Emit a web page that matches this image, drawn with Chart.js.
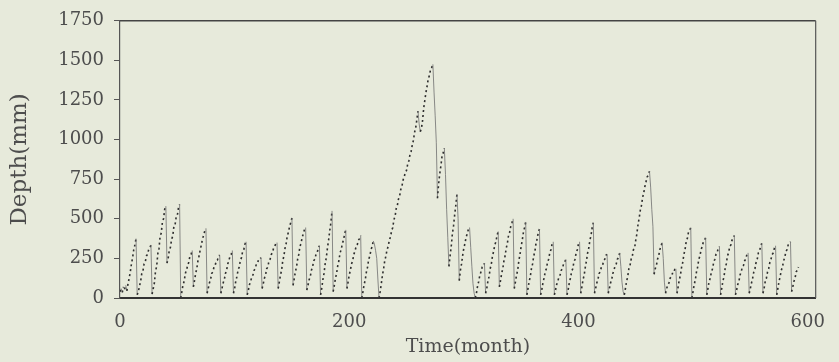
<!DOCTYPE html>
<html>
<head>
<meta charset="utf-8">
<script src="https://cdn.jsdelivr.net/npm/chart.js@4/dist/chart.umd.min.js"></script>
<style>
  html, body { margin: 0; padding: 0; background: #e7eadb; }
  canvas { display: block; }
</style>
</head>
<body>
<canvas id="c" width="839" height="362"></canvas>
<script>
// Monthly depth (mm), months 0-99
const depth000 = [40,60,35,70,55,80,45,90,125,165,215,255,305,335,375,20,
  40,75,105,155,170,215,225,265,275,305,315,335,25,
  60,95,170,200,280,310,390,410,480,500,560,580,220,
  250,300,320,370,390,450,460,510,520,570,590,0,
  40,85,105,155,175,205,225,265,275,300,70,
  110,155,185,235,265,305,335,375,395,425,440,30,
  60,95,115,155,165,195,205,235,240,265,270,30,
  60,95,115,155,175,215,235,265,275,300,30];
// months 100-199
const depth100 = [60,105,135,175,195,235,255,295,305,340,355,20,
  50,85,105,135,145,175,185,215,220,245,245,255,60,
  90,125,145,185,195,235,245,275,285,315,325,345,350,60,
  100,145,175,235,265,315,345,395,415,455,475,505,80,
  120,165,195,245,275,325,345,385,405,435,445,50,
  80,115,135,175,195,235,245,275,285,315,330,20,
  60,115,155,215,255,315,365,425,475,550,40,
  80,125,155,205,235,285,305,345,365,405,430,60,
  100];
// months 200-299
const depth200 = [145,175,215,235,275,295,325,335,365,375,395,0,
  40,85,115,165,195,245,265,305,325,360,340,300,250,120,0,
  40,90,145,185,235,265,305,325,365,385,425,445,495,515,565,585,625,645,685,705,
  745,765,795,805,845,865,905,925,965,995,1045,1075,1125,1180,1100,1050,1070,1120,1200,1250,
  1300,1340,1385,1405,1445,1455,1475,1300,1150,980,630,
  720,785,835,895,915,945,780,560,380,200,
  265,325,405,455,525,585,655,500,110,175,215,270];
// months 300-399
const depth300 = [315,345,385,405,435,445,320,200,90,30,0,
  30,75,105,145,165,195,200,220,30,
  60,105,135,185,215,265,295,335,355,395,420,70,
  110,155,185,235,265,315,345,395,415,455,475,500,60,
  100,145,175,235,275,325,365,415,445,480,20,
  60,105,135,185,215,265,295,345,375,415,435,20,
  50,95,125,165,185,225,245,285,305,340,355,20,
  50,85,105,135,145,175,185,215,225,245,20,
  50,95,125,165,185,225,245,285,305];
// months 400-499
const depth400 = [340,355,30,
  70,115,145,195,235,285,315,365,395,445,475,30,
  60,95,115,155,165,195,205,235,245,270,275,30,
  60,95,115,155,175,205,215,245,255,285,200,100,40,20,
  60,105,135,185,205,245,265,305,315,365,405,465,505,555,585,635,665,705,735,765,775,800,700,560,450,150,
  185,205,245,265,305,325,350,250,100,30,
  60,85,95,125,135,155,155,180,185,30,
  70,115,145,195,225,275,305,355,375,415,425,445,0];
// months 500-592
const depth500 = [40,85,115,165,195,245,265,305,325,355,365,380,20,
  60,105,125,165,185,225,245,275,285,315,325,20,
  60,105,135,185,215,265,285,325,335,365,375,395,20,
  50,85,105,145,165,195,205,235,245,275,285,30,
  60,95,125,165,185,225,245,285,295,330,345,30,
  60,105,125,165,185,225,245,275,285,315,330,20,
  60,105,135,175,195,235,255,295,305,335,340,355,40,
  70,105,125,165,175,195];

const xTicks = [0, 200, 400, 600];
const yTicks = [0, 250, 500, 750, 1000, 1250, 1500, 1750];
const xTitle = 'Time(month)';
const yTitle = 'Depth(mm)';

const depth = [].concat(depth000, depth100, depth200, depth300, depth400, depth500);
const points = depth.map((v, i) => ({ x: i, y: v }));

const textCol = '#4d4d4d';

const bgPlugin = {
  id: 'bg',
  beforeDraw(chart) {
    const ctx = chart.ctx;
    ctx.save();
    ctx.fillStyle = '#e7eadb';
    ctx.fillRect(0, 0, chart.width, chart.height);
    ctx.restore();
  }
};
const framePlugin = {
  id: 'frame',
  afterDraw(chart) {
    const { left, right, top, bottom } = chart.chartArea;
    const ctx = chart.ctx;
    ctx.save();
    ctx.strokeStyle = '#444';
    ctx.lineWidth = 1.5;
    ctx.beginPath();
    ctx.moveTo(left, top); ctx.lineTo(right, top);
    ctx.stroke();
    ctx.lineWidth = 1.2;
    ctx.strokeStyle = '#555';
    ctx.beginPath();
    ctx.moveTo(right, top); ctx.lineTo(right, bottom);
    ctx.stroke();
    ctx.restore();
  }
};

const rising = c => c.p1.parsed.y >= c.p0.parsed.y;

new Chart(document.getElementById('c'), {
  type: 'line',
  data: {
    datasets: [{
      data: points,
      borderColor: '#2e2e2e',
      borderWidth: 1.6,
      pointRadius: 0,
      tension: 0,
      fill: false,
      segment: {
        borderDash: c => rising(c) ? [2, 3] : [],
        borderColor: c => rising(c) ? '#2e2e2e' : '#6f6f6f',
        borderWidth: c => rising(c) ? 1.6 : 0.8
      }
    }]
  },
  options: {
    responsive: false,
    devicePixelRatio: 1,
    animation: false,
    events: [],
    layout: { padding: { left: 0, right: 14, top: 18, bottom: 0 } },
    plugins: { legend: { display: false }, tooltip: { enabled: false } },
    scales: {
      x: {
        type: 'linear',
        min: 0,
        max: 607,
        afterFit(scale) { scale.height = 64; },
        afterBuildTicks(scale) { scale.ticks = xTicks.map(v => ({ value: v })); },
        grid: { display: true, drawOnChartArea: false, drawTicks: false },
        border: { display: true, color: '#333', width: 2 },
        ticks: { color: textCol, padding: 14, maxRotation: 0, autoSkip: false,
          callback: v => String(v),
          font: { family: 'DejaVu Serif', size: 18 } },
        title: { display: true, text: xTitle, color: textCol, padding: { top: 2, bottom: 4 },
          font: { family: 'DejaVu Serif', size: 19 } }
      },
      y: {
        min: 0,
        max: 1750,
        afterFit(scale) { scale.width = 120; },
        afterBuildTicks(scale) { scale.ticks = yTicks.map(v => ({ value: v })); },
        grid: { display: true, drawOnChartArea: false, drawTicks: true, tickLength: 6, color: '#555', tickWidth: 1 },
        border: { display: true, color: '#555', width: 1.2 },
        ticks: { color: textCol, padding: 10, autoSkip: false,
          callback: v => String(v),
          font: { family: 'DejaVu Serif', size: 18 } },
        title: { display: true, text: yTitle, color: textCol, padding: { top: 6, bottom: 0 },
          font: { family: 'DejaVu Serif', size: 23 } }
      }
    }
  },
  plugins: [bgPlugin, framePlugin]
});
</script>
</body>
</html>
